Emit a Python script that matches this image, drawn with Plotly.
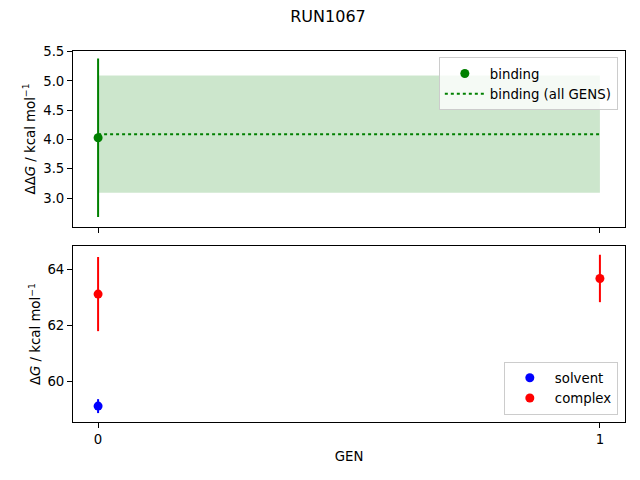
import plotly.graph_objects as go
from plotly.subplots import make_subplots

# values
gens = [0, 1]

binding_gen = [0]
binding_dg = [4.03]
binding_err = [1.35]

binding_all = 4.09
binding_all_err = 1.0

solvent_gen = [0]
solvent_dg = [59.10]
solvent_err = [0.25]

complex_gen = [0, 1]
complex_dg = [63.12, 63.68]
complex_err = [1.33, 0.85]

green = "green"
fnt = dict(family="DejaVu Sans", size=13.3, color="black")

fig = make_subplots(rows=2, cols=1, shared_xaxes=True, vertical_spacing=0.052)

# shaded band for all gens
fig.add_trace(go.Scatter(x=gens, y=[binding_all - binding_all_err] * len(gens),
                         mode="lines", line=dict(width=0, color=green),
                         showlegend=False, hoverinfo="skip"), row=1, col=1)
fig.add_trace(go.Scatter(x=gens, y=[binding_all + binding_all_err] * len(gens),
                         mode="lines", line=dict(width=0, color=green),
                         fill="tonexty", fillcolor="rgba(0,128,0,0.2)",
                         showlegend=False, hoverinfo="skip"), row=1, col=1)

fig.add_trace(go.Scatter(x=binding_gen, y=binding_dg, mode="markers", name="binding",
                         marker=dict(color=green, size=9),
                         error_y=dict(type="data", array=binding_err, color=green,
                                      thickness=2, width=0),
                         legend="legend"), row=1, col=1)
fig.add_trace(go.Scatter(x=gens, y=[binding_all] * len(gens), mode="lines",
                         name="binding (all GENS)",
                         line=dict(color=green, dash="dot", width=2),
                         legend="legend"), row=1, col=1)

fig.add_trace(go.Scatter(x=solvent_gen, y=solvent_dg, mode="markers", name="solvent",
                         marker=dict(color="blue", size=9),
                         error_y=dict(type="data", array=solvent_err, color="blue",
                                      thickness=2, width=0),
                         legend="legend2"), row=2, col=1)
fig.add_trace(go.Scatter(x=complex_gen, y=complex_dg, mode="markers", name="complex",
                         marker=dict(color="red", size=9),
                         error_y=dict(type="data", array=complex_err, color="red",
                                      thickness=2, width=0),
                         legend="legend2"), row=2, col=1)

axis_style = dict(showline=True, linecolor="black", linewidth=1, mirror=True,
                  ticks="outside", ticklen=5, tickcolor="black", showgrid=False,
                  zeroline=False, tickfont=fnt)

fig.update_xaxes(**axis_style, range=[-0.05, 1.05], tickvals=gens)
fig.update_xaxes(showticklabels=False, row=1, col=1)
fig.update_xaxes(title_text="GEN", title_font=fnt, title_standoff=5, row=2, col=1)

fig.update_yaxes(**axis_style, automargin=True)
fig.update_yaxes(range=[2.51, 5.51], dtick=0.5, tickformat=".1f",
                 title_text="ΔΔ<i>G</i> / kcal mol<sup>−1</sup>", title_font=fnt,
                 title_standoff=4, row=1, col=1)
fig.update_yaxes(range=[58.53, 64.84], tickvals=[60, 62, 64],
                 title_text="Δ<i>G</i> / kcal mol<sup>−1</sup>", title_font=fnt,
                 title_standoff=3, row=2, col=1)

legend_box = dict(bgcolor="rgba(255,255,255,0.8)", bordercolor="#cccccc", borderwidth=1,
                  font=fnt, xanchor="right", traceorder="normal", itemwidth=40)

# page has an 8px body margin, so shift the plot up/left by that amount
fig.update_layout(
    width=640, height=480,
    title=dict(text="RUN1067", x=0.5, xanchor="center", y=0.983, yanchor="middle",
               font=dict(family="DejaVu Sans", size=16, color="black")),
    margin=dict(l=65, r=23, t=43, b=66, autoexpand=False),
    plot_bgcolor="white", paper_bgcolor="white",
    legend=dict(**legend_box, x=0.987, y=0.983, yanchor="top"),
    legend2=dict(**legend_box, x=0.987, y=0.02, yanchor="bottom"),
    font=fnt,
)

fig.write_html("out.html")
